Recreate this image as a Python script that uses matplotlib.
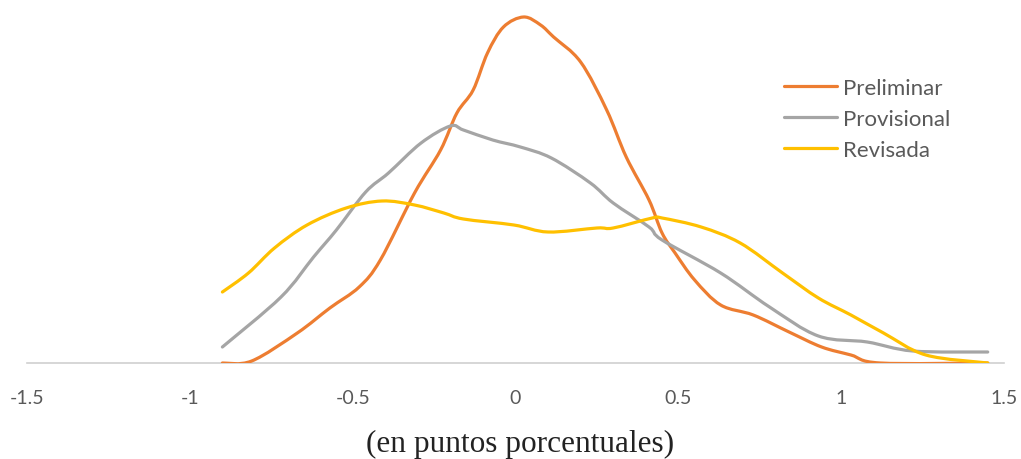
import numpy as np
import matplotlib
matplotlib.use("Agg")
import matplotlib.pyplot as plt
from matplotlib.path import Path
from matplotlib.patches import PathPatch
from matplotlib.lines import Line2D

# Distribucion de las revisiones (lineas suavizadas)
x_pre = [-0.90, -0.81, -0.67, -0.57, -0.48, -0.415, -0.31, -0.23, -0.18, -0.13, -0.086, -0.037,
         0.025, 0.077, 0.117, 0.20, 0.28, 0.34, 0.41, 0.45, 0.49, 0.55, 0.63, 0.73, 0.84, 0.94,
         1.03, 1.12, 1.45]
y_pre = [0.00, 0.02, 0.30, 0.55, 0.76, 1.03, 1.70, 2.13, 2.50, 2.73, 3.10, 3.36,
         3.46, 3.38, 3.26, 3.01, 2.53, 2.06, 1.63, 1.30, 1.10, 0.83, 0.58, 0.48, 0.31, 0.16,
         0.08, 0.00, 0.00]

x_prov = [-0.90, -0.72, -0.62, -0.55, -0.46, -0.39, -0.29, -0.20, -0.16, -0.07, 0.015, 0.11,
          0.23, 0.30, 0.41, 0.45, 0.63, 0.78, 0.93, 1.08, 1.22, 1.45]
y_prov = [0.16, 0.66, 1.06, 1.33, 1.71, 1.90, 2.20, 2.37, 2.33, 2.23, 2.16, 2.05,
          1.80, 1.60, 1.36, 1.23, 0.90, 0.56, 0.27, 0.21, 0.12, 0.11]

x_rev = [-0.90, -0.82, -0.74, -0.64, -0.52, -0.41, -0.31, -0.22, -0.16, -0.005, 0.10, 0.25,
         0.30, 0.42, 0.45, 0.57, 0.69, 0.82, 0.93, 1.03, 1.13, 1.26, 1.45]
y_rev = [0.71, 0.90, 1.15, 1.38, 1.55, 1.62, 1.58, 1.50, 1.44, 1.38, 1.31, 1.35,
         1.35, 1.45, 1.45, 1.36, 1.20, 0.90, 0.65, 0.48, 0.30, 0.08, 0.00]

series = [("Preliminar", x_pre, y_pre, "#ED7D31"),
          ("Provisional", x_prov, y_prov, "#A5A5A5"),
          ("Revisada", x_rev, y_rev, "#FFC000")]

ticks = [-1.5, -1, -0.5, 0, 0.5, 1, 1.5]
tick_labels = ["-1.5", "-1", "-0.5", "0", "0.5", "1", "1.5"]


def smooth_path(x, y):
    # curva tipo Excel (Catmull-Rom -> Bezier cubica)
    p = np.column_stack([x, y])
    pts = np.vstack([p[0], p, p[-1]])
    verts = [p[0]]
    codes = [Path.MOVETO]
    for i in range(1, len(pts) - 2):
        p0, p1, p2, p3 = pts[i - 1], pts[i], pts[i + 1], pts[i + 2]
        c1 = p1 + (p2 - p0) / 6.0
        c2 = p2 - (p3 - p1) / 6.0
        verts += [c1, c2, p2]
        codes += [Path.CURVE4] * 3
    return Path(verts, codes)


W, H = 1021, 460
fig = plt.figure(figsize=(W / 100, H / 100), dpi=100)
ax = fig.add_axes([27 / W, (H - 364) / H, (1004 - 27) / W, 364 / H])

handles = []
for name, xs, ys, col in series:
    patch = PathPatch(smooth_path(xs, ys), facecolor="none", edgecolor=col,
                      lw=2.3, capstyle="round", joinstyle="round", zorder=3)
    ax.add_patch(patch)
    handles.append(Line2D([], [], color=col, lw=2.3, solid_capstyle="round", label=name))

ax.set_xlim(-1.5, 1.5)
ax.set_ylim(0, 3.64)
for s in ["top", "right", "left"]:
    ax.spines[s].set_visible(False)
ax.spines["bottom"].set_color("#D0D0D0")
ax.spines["bottom"].set_linewidth(1.2)
ax.set_yticks([])
ax.set_xticks(ticks)
ax.set_xticklabels(tick_labels, fontfamily="Lato", fontsize=14, color="#595959")
ax.tick_params(axis="x", length=0, pad=19)

fig.text(520 / W, (H - 444) / H, "(en puntos porcentuales)", fontfamily="Liberation Serif",
         fontsize=22.5, color="#222222", ha="center", va="center")

leg = fig.legend(handles=handles, loc="upper left", bbox_to_anchor=(784 / W, (H - 79) / H),
                 frameon=False, prop={"family": "Lato", "size": 16},
                 handlelength=2.4, handletextpad=0.25, labelspacing=0.5,
                 borderpad=0, borderaxespad=0)
for t in leg.get_texts():
    t.set_color("#595959")

fig.savefig("out.png", dpi=100)
